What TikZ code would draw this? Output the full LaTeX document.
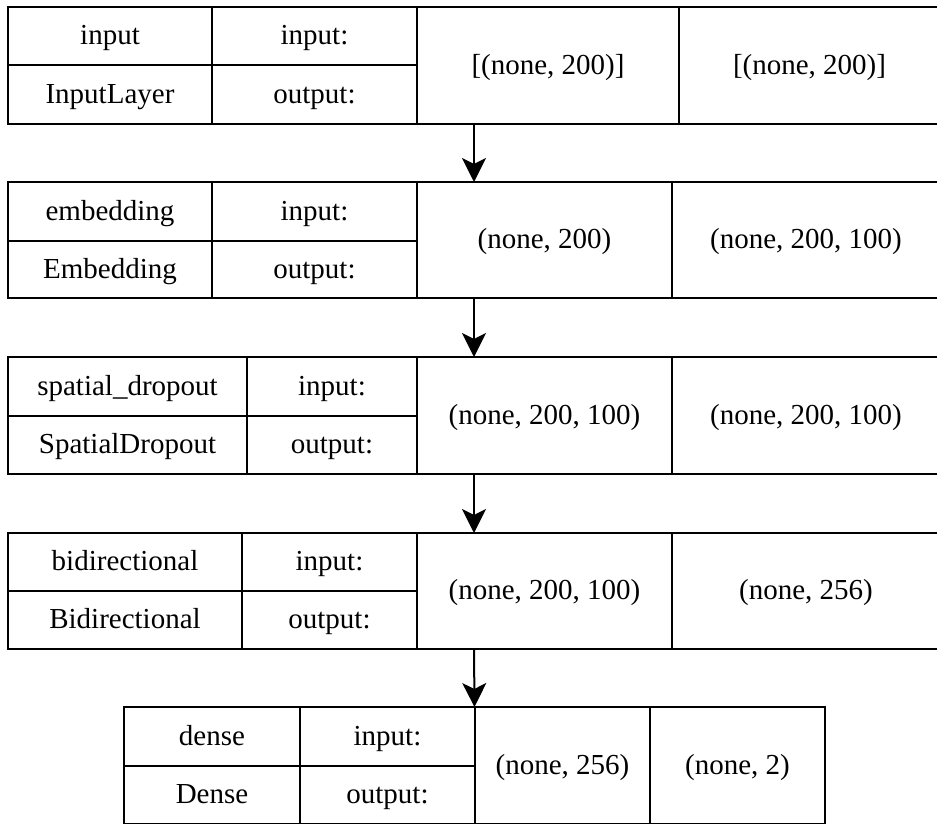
\documentclass[tikz,border=0pt]{standalone}
\usepackage{fontspec}
\setmainfont{Liberation Serif}
\usetikzlibrary{arrows.meta}

% one table cell: name, x0, y0, x1, y1, text
\newcommand\cellnode[6]{%
  \node[cell, minimum width={(#4-#2)*1pt}, minimum height={(#5-#3)*1pt}]
    (#1) at ({(#2+#4)/2},{(#3+#5)/2}) {#6};}
% invisible frame of a whole layer record: name, x0, y0, x1, y1
\newcommand\recnode[5]{%
  \node[recbox, minimum width={(#4-#2)*1pt}, minimum height={(#5-#3)*1pt}]
    (#1) at ({(#2+#4)/2},{(#3+#5)/2}) {};}

\tikzset{
  cell/.style={draw=black, line width=2pt, inner sep=0pt,
    font=\fontsize{29}{33}\selectfont, text height=20pt, text depth=3pt},
  recbox/.style={draw=none, inner sep=0pt, outer sep=0pt},
  flow/.style={line width=2pt,
    -{Stealth[length=24pt, width=24pt, inset=6pt]}}
}

\begin{document}
\begin{tikzpicture}[x=1pt, y=-1pt]
  \useasboundingbox (0,0) rectangle (937,823);
  \clip (0,0) rectangle (937,823);

  % input
  \recnode{rec1}{8}{7}{940}{124}
  \cellnode{r1n}{8}{7}{212}{65}{input}
  \cellnode{r1c}{8}{65}{212}{124}{InputLayer}
  \cellnode{r1i}{212}{7}{417}{65}{input:}
  \cellnode{r1o}{212}{65}{417}{124}{output:}
  \cellnode{r1a}{417}{7}{679}{124}{[(none, 200)]}
  \cellnode{r1b}{679}{7}{940}{124}{[(none, 200)]}

  % embedding
  \recnode{rec2}{8}{182}{940}{298}
  \cellnode{r2n}{8}{182}{212}{241}{embedding}
  \cellnode{r2c}{8}{241}{212}{298}{Embedding}
  \cellnode{r2i}{212}{182}{417}{241}{input:}
  \cellnode{r2o}{212}{241}{417}{298}{output:}
  \cellnode{r2a}{417}{182}{672}{298}{(none, 200)}
  \cellnode{r2b}{672}{182}{940}{298}{(none, 200, 100)}

  % spatial dropout
  \recnode{rec3}{8}{357}{940}{474}
  \cellnode{r3n}{8}{357}{247}{416}{spatial\_dropout}
  \cellnode{r3c}{8}{416}{247}{474}{SpatialDropout}
  \cellnode{r3i}{247}{357}{417}{416}{input:}
  \cellnode{r3o}{247}{416}{417}{474}{output:}
  \cellnode{r3a}{417}{357}{672}{474}{(none, 200, 100)}
  \cellnode{r3b}{672}{357}{940}{474}{(none, 200, 100)}

  % bidirectional
  \recnode{rec4}{8}{533}{940}{649}
  \cellnode{r4n}{8}{533}{242}{591}{bidirectional}
  \cellnode{r4c}{8}{591}{242}{649}{Bidirectional}
  \cellnode{r4i}{242}{533}{417}{591}{input:}
  \cellnode{r4o}{242}{591}{417}{649}{output:}
  \cellnode{r4a}{417}{533}{672}{649}{(none, 200, 100)}
  \cellnode{r4b}{672}{533}{940}{649}{(none, 256)}

  % dense
  \recnode{rec5}{124}{707}{825}{824}
  \cellnode{r5n}{124}{707}{300}{766}{dense}
  \cellnode{r5c}{124}{766}{300}{824}{Dense}
  \cellnode{r5i}{300}{707}{475}{766}{input:}
  \cellnode{r5o}{300}{766}{475}{824}{output:}
  \cellnode{r5a}{475}{707}{650}{824}{(none, 256)}
  \cellnode{r5b}{650}{707}{825}{824}{(none, 2)}

  % connections between layers
  \draw[flow] (rec1.south) -- (rec2.north);
  \draw[flow] (rec2.south) -- (rec3.north);
  \draw[flow] (rec3.south) -- (rec4.north);
  \draw[flow] (rec4.south) -- (rec5.north);
\end{tikzpicture}
\end{document}
